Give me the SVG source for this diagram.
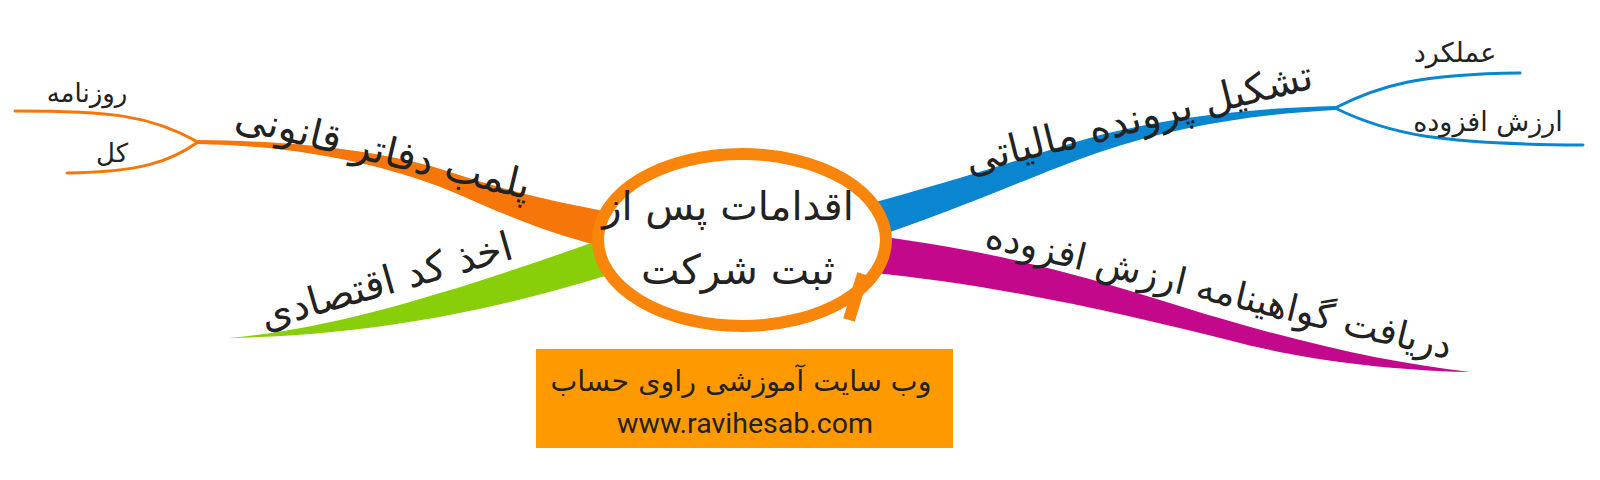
<svg xmlns="http://www.w3.org/2000/svg" width="1600" height="480" viewBox="0 0 1600 480">
<style>
.t{font-family:"DejaVu Sans",sans-serif;fill:#222;text-anchor:middle}
.sub{fill:none;stroke-width:3;stroke-linecap:round}
</style>
<rect width="1600" height="480" fill="#fff"/>
<g id="connectors">
<path d="M198,140 C300,141 390,152 450,172 C510,192 560,203 610,212 L610,248 C570,240 520,222 460,195 C390,165 300,146 198,144 Z" fill="#F7760A"/>
<path class="sub" stroke="#F7760A" d="M15,111 C110,111 150,115 198,142"/>
<path class="sub" stroke="#F7760A" d="M198,142 C170,162 140,172 67,173"/>
<path d="M228,338 C330,330 460,290 605,238 L605,276 C500,308 380,335 228,338 Z" fill="#88CF0A"/>
<path d="M860,206 C960,180 1040,152 1100,135 C1180,115 1260,108 1335,106 L1335,110 C1260,114 1180,125 1100,152 C1040,172 960,210 860,242 Z" fill="#0A85CF"/>
<path class="sub" stroke="#0A85CF" d="M1335,108 C1380,85 1420,74 1520,73"/>
<path class="sub" stroke="#0A85CF" d="M1335,108 C1390,135 1440,144 1583,145"/>
<path d="M865,235 C960,245 1060,268 1160,300 C1280,338 1380,362 1470,372 C1380,370 1300,358 1240,343 C1120,313 1000,285 865,272 Z" fill="#C4088B"/>
</g>
<g id="center">
<ellipse cx="742" cy="240" rx="144" ry="86" fill="#fff" stroke="#F9850A" stroke-width="12"/>
<line x1="863" y1="274" x2="849" y2="320" stroke="#F9850A" stroke-width="12"/>
<text class="t" x="728" y="220" font-size="40" direction="rtl">اقدامات پس از</text>
<text class="t" x="738" y="284" font-size="41" direction="rtl">ثبت شرکت</text>
</g>
<g id="n-plomb">
<text class="t" font-size="40" direction="rtl" transform="translate(380,164) rotate(13.5)">پلمب دفاتر قانونی</text>
</g>
<g id="n-roznameh"><text class="t" x="87" y="102" font-size="26" direction="rtl">روزنامه</text></g>
<g id="n-kol"><text class="t" x="112" y="162" font-size="26" direction="rtl">کل</text></g>
<g id="n-akhz">
<text class="t" font-size="40" direction="rtl" transform="translate(390,294) rotate(-16)">اخذ کد اقتصادی</text>
</g>
<g id="n-tashkil">
<text class="t" font-size="40" direction="rtl" transform="translate(1142,131) rotate(-14)">تشکیل پرونده مالیاتی</text>
</g>
<g id="n-amalkard"><text class="t" x="1455" y="62" font-size="27" direction="rtl">عملکرد</text></g>
<g id="n-arzesh"><text class="t" x="1488" y="131" font-size="27" direction="rtl">ارزش افزوده</text></g>
<g id="n-daryaft">
<text class="t" font-size="37" direction="rtl" transform="translate(1216,303) rotate(13.6)">دریافت گواهینامه ارزش افزوده</text>
</g>
<g id="banner">
<rect x="536" y="349" width="417" height="99" fill="#FE9A00"/>
<text class="t" x="741" y="391" font-size="28.5" direction="rtl">وب سایت آموزشی راوی حساب</text>
<text x="745" y="433" font-size="28.5" font-family="Roboto, sans-serif" fill="#222" text-anchor="middle">www.ravihesab.com</text>
</g>
</svg>
